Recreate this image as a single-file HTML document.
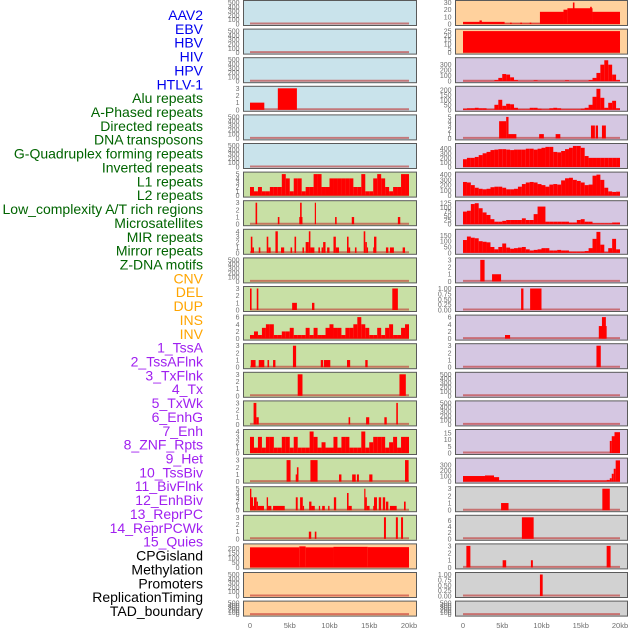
<!DOCTYPE html>
<html><head><meta charset="utf-8"><style>
html,body{margin:0;padding:0;background:#fff;}
svg{display:block;font-family:"Liberation Sans",sans-serif;}
</style></head><body>
<svg id="chart" width="630" height="630" viewBox="0 0 630 630" xmlns="http://www.w3.org/2000/svg">
<g id="labels"></g>
<g id="panels"></g>
<g id="xaxes"></g>
</svg>
<script>
const NS="http://www.w3.org/2000/svg";
// ---- track labels ----
const trackLabels=["AAV2","EBV","HBV","HIV","HPV","HTLV-1","Alu repeats","A-Phased repeats","Directed repeats","DNA transposons","G-Quadruplex forming repeats","Inverted repeats","L1 repeats","L2 repeats","Low_complexity A/T rich regions","Microsatellites","MIR repeats","Mirror repeats","Z-DNA motifs","CNV","DEL","DUP","INS","INV","1_TssA","2_TssAFlnk","3_TxFlnk","4_Tx","5_TxWk","6_EnhG","7_Enh","8_ZNF_Rpts","9_Het","10_TssBiv","11_BivFlnk","12_EnhBiv","13_ReprPC","14_ReprPCWk","15_Quies","CPGisland","Methylation","Promoters","ReplicationTiming","TAD_boundary"];
const labelGroupSizes=[6,13,5,15,5];
const labelGroupColors=["#0000ee","#006400","#ffa500","#a020f0","#000000"];
const xTickValues=[0,5,10,15,20];
const xTickLabels=["0","5kb","10kb","15kb","20kb"];
const emptyTicks=[0,100,200,300,400,500];

// ---- left column data (segments: [startKb,endKb,value]; bins: 0.5kb) ----
const l3Segs=[[0,1.8,1],[3.5,5.9,3]];
const l6Bins=[2,1,2,1,1,2,2,2,5,4,1,4,4,1,2,2,5,5,2,2,4,4,4,4,4,4,2,2,5,1,1,4,5,4,2,1,2,2,5,5];
const l7Segs=[[0.7,0.9,3],[3.5,3.7,1],[6.2,6.6,1],[6.3,6.5,3],[8.15,8.3,3],[10.7,10.9,1],[12.8,13.1,1],[18.6,18.9,1]];
const l8Segs=[[0.1,0.3,3],[0.3,0.5,1],[1.1,1.3,1],[2.1,2.3,3],[2.3,2.6,1],[3.2,3.5,4],[3.9,4.3,1],[5.1,5.3,1],[5.6,5.8,3],[6.6,6.8,1],[7.0,7.4,2],[7.4,7.6,4],[7.6,8.1,1],[8.6,8.8,1],[9.0,9.2,1],[9.2,9.5,2],[9.7,10.0,1],[10.5,10.8,3],[10.8,11.2,1],[12.2,12.4,3],[12.4,12.6,1],[13.2,13.4,1],[14.3,14.5,4],[14.5,14.7,2],[14.7,14.8,1],[15.5,15.6,1],[15.6,15.9,3],[17.1,17.4,1],[17.6,18.1,1],[19.2,19.5,1]];
const l10Segs=[[0,0.2,3],[0.85,1.05,3],[5.3,5.9,1],[7.8,8.1,1],[17.9,18.6,3]];
const l11Bins=[1,2,1,3,4,4,1,1,2,2,3,1,1,1,3,1,3,1,1,3,4,3,3,1,3,3,4,6,4,3,1,1,3,1,3,4,1,1,3,4];
const l12Segs=[[0.1,0.7,1],[1.1,1.8,1],[2.2,2.4,1],[2.9,3.2,1],[5.4,5.8,3],[8.9,9.2,1],[9.3,10.1,1],[12.2,12.6,1],[14.5,14.8,1]];
const l13Segs=[[6.0,6.6,3],[18.8,19.6,3]];
const l14Segs=[[0.45,0.8,3],[0.8,1.1,1],[12.4,12.6,1],[14.6,15.0,1],[16.9,17.2,1],[18.4,18.6,3]];
const l15Bins=[3,1,3,1,3,3,1,1,3,3,1,3,1,1,1,4,3,1,2,1,1,3,1,3,3,1,1,1,4,1,2,3,3,3,1,2,3,1,3,3];
const l16Segs=[[4.6,5.1,3],[5.75,6.0,1],[5.9,6.1,2],[7.6,8.5,3],[11.2,11.5,1],[12.85,13.3,1],[13.45,13.7,1],[15.0,15.4,1],[19.5,19.95,3]];
const l17Segs=[[0,0.17,5],[0.08,0.38,3],[0.38,0.59,1],[0.5,0.84,3],[0.84,1.0,2],[1.0,1.76,1],[2.1,2.27,3],[2.27,2.69,1],[2.9,4.37,1],[5.76,6.0,3],[6.3,6.64,3],[6.64,6.8,1],[7.44,7.73,2],[7.73,8.15,1],[8.66,8.82,1],[9.08,9.41,1],[9.83,10.0,1],[10.55,10.84,3],[12.2,12.4,4],[12.4,12.8,1],[14.37,14.5,5],[14.5,14.7,3],[14.7,15.04,1],[15.5,15.7,1],[15.6,15.97,3],[16.2,16.5,3],[16.7,17.0,3],[17.1,17.4,2],[17.6,18.45,1],[19.37,19.58,2]];
const l18Segs=[[7.4,7.7,1],[8.15,8.35,1],[16.85,17.1,3],[18.35,18.6,3],[19.0,19.25,3]];
const l19Segs=[[0,6.2,210],[6.2,7.0,220],[7.0,10.5,210],[10.5,14.8,215],[14.8,20,212]];

// ---- right column data ----
const r0Segs=[[0,5.3,3],[2.1,2.4,5],[5.3,9.8,0.5],[6.0,6.2,2],[7.3,7.5,2],[8.5,8.7,2],[9.8,12.8,17],[12.8,13.3,20],[13.3,16.5,22],[14.0,14.2,30],[16.2,16.4,24],[16.5,20,17]];
const r1Segs=[[0,20,25]];
const r2Bins=[5,5,5,5,5,5,5,5,20,60,130,120,70,20,5,5,5,5,15,5,5,5,5,5,5,5,15,5,5,5,5,5,20,60,150,300,380,300,120,20];
const r3Bins=[10,15,15,20,15,15,5,5,50,100,40,60,55,20,5,5,5,20,20,10,5,5,15,20,15,5,5,5,5,5,10,20,50,130,210,120,20,70,90,15];
const r4Segs=[[4.6,5.5,4],[5.5,5.8,5],[5.8,6.8,1],[9.7,10.3,1],[11.8,12.4,1],[16.3,16.8,3],[16.9,17.2,3],[17.7,18.2,3]];
const r5Bins=[170,200,200,220,260,300,330,370,380,390,390,380,370,380,380,380,400,400,380,400,420,440,440,330,320,350,390,420,460,460,420,240,200,200,200,200,200,200,200,200];
const r6Bins=[260,250,200,150,130,120,130,160,170,170,150,120,120,130,170,220,250,260,250,220,200,170,210,220,210,290,330,340,300,280,250,200,210,380,400,300,150,80,70,75];
const r7Bins=[75,80,120,125,95,70,55,30,15,15,20,25,25,25,25,35,25,25,60,105,105,15,15,15,15,15,15,10,10,25,30,15,15,5,5,5,5,5,10,10];
const r8Bins=[110,140,130,125,100,95,90,50,30,50,80,45,35,40,45,50,30,20,25,30,40,40,20,20,25,20,20,10,10,10,10,15,40,120,180,70,5,40,120,30];
const r9Segs=[[2.2,2.75,3],[3.7,4.85,1]];
const r10Segs=[[7.4,7.7,1],[8.55,10.0,1]];
const r11Segs=[[5.35,6.0,1],[17.3,18.3,3.5],[17.7,18.2,6]];
const r12Segs=[[17.0,17.55,3]];
const r15Segs=[[18.7,18.95,9],[18.95,19.3,12.5],[19.3,20,15.5]];
const r16Segs=[[0,2.8,100],[2.8,3.95,110],[3.95,4.6,80],[4.6,12.3,25],[12.3,18.3,20],[18.3,18.7,30],[18.7,18.95,60],[18.95,19.2,140],[19.2,19.45,230],[19.45,20,380]];
const r17Segs=[[4.85,5.8,1],[17.75,18.7,3]];
const r18Segs=[[7.5,9.0,7]];
const r19Segs=[[0.43,0.94,3],[5.05,5.5,1],[8.65,8.9,1],[18.3,18.8,3]];
const r20Segs=[[9.8,10.15,1]];

const C={blue:"#c9e3eb",green:"#c8e0a5",purple:"#d5c7e2",orange:"#ffd19d",grey:"#d2d2d2"};
const T3=[0,1,2,3],T4=[0,1,2,3,4],T5=[0,1,2,3,4,5],T6=[0,2,4,6],T1=[0,0.25,0.5,0.75,1];
const panels=[
 // left column
 {c:0,r:0,bg:C.blue,max:500,ticks:emptyTicks},
 {c:0,r:1,bg:C.blue,max:500,ticks:emptyTicks},
 {c:0,r:2,bg:C.blue,max:500,ticks:emptyTicks},
 {c:0,r:3,bg:C.blue,max:3,ticks:T3,segs:l3Segs},
 {c:0,r:4,bg:C.blue,max:500,ticks:emptyTicks},
 {c:0,r:5,bg:C.blue,max:500,ticks:emptyTicks},
 {c:0,r:6,bg:C.green,max:5,ticks:T5,bins:l6Bins},
 {c:0,r:7,bg:C.green,max:3,ticks:T3,segs:l7Segs},
 {c:0,r:8,bg:C.green,max:4,ticks:T4,segs:l8Segs},
 {c:0,r:9,bg:C.green,max:500,ticks:emptyTicks},
 {c:0,r:10,bg:C.green,max:3,ticks:T3,segs:l10Segs},
 {c:0,r:11,bg:C.green,max:6,ticks:T6,bins:l11Bins},
 {c:0,r:12,bg:C.green,max:3,ticks:T3,segs:l12Segs},
 {c:0,r:13,bg:C.green,max:3,ticks:T3,segs:l13Segs},
 {c:0,r:14,bg:C.green,max:3,ticks:T3,segs:l14Segs},
 {c:0,r:15,bg:C.green,max:4,ticks:T4,bins:l15Bins},
 {c:0,r:16,bg:C.green,max:3,ticks:T3,segs:l16Segs},
 {c:0,r:17,bg:C.green,max:5,ticks:T5,segs:l17Segs},
 {c:0,r:18,bg:C.green,max:3,ticks:T3,segs:l18Segs},
 {c:0,r:19,bg:C.orange,max:225,ticks:[0,50,100,150,200],segs:l19Segs},
 {c:0,r:20,bg:C.orange,max:500,ticks:emptyTicks},
 {c:0,r:21,bg:C.orange,max:500,ticks:emptyTicks},
 // right column
 {c:1,r:0,bg:C.orange,max:30,ticks:[0,10,20,30],segs:r0Segs},
 {c:1,r:1,bg:C.orange,max:25,ticks:[0,5,10,15,20,25],segs:r1Segs},
 {c:1,r:2,bg:C.purple,max:390,ticks:[0,100,200,300],bins:r2Bins},
 {c:1,r:3,bg:C.purple,max:215,ticks:[0,50,100,150,200],bins:r3Bins},
 {c:1,r:4,bg:C.purple,max:5,ticks:T5,segs:r4Segs},
 {c:1,r:5,bg:C.purple,max:470,ticks:[0,100,200,300,400],bins:r5Bins},
 {c:1,r:6,bg:C.purple,max:410,ticks:[0,100,200,300,400],bins:r6Bins},
 {c:1,r:7,bg:C.purple,max:128,ticks:[0,25,50,75,100,125],bins:r7Bins},
 {c:1,r:8,bg:C.purple,max:185,ticks:[0,50,100,150],bins:r8Bins},
 {c:1,r:9,bg:C.purple,max:3,ticks:T3,segs:r9Segs},
 {c:1,r:10,bg:C.purple,max:1,ticks:T1,segs:r10Segs,fmt:2},
 {c:1,r:11,bg:C.purple,max:6,ticks:T6,segs:r11Segs},
 {c:1,r:12,bg:C.purple,max:3,ticks:T3,segs:r12Segs},
 {c:1,r:13,bg:C.purple,max:500,ticks:emptyTicks},
 {c:1,r:14,bg:C.purple,max:500,ticks:emptyTicks},
 {c:1,r:15,bg:C.purple,max:16,ticks:[0,5,10,15],segs:r15Segs},
 {c:1,r:16,bg:C.purple,max:385,ticks:[0,100,200,300],segs:r16Segs},
 {c:1,r:17,bg:C.grey,max:3,ticks:T3,segs:r17Segs},
 {c:1,r:18,bg:C.grey,max:7,ticks:T6,segs:r18Segs},
 {c:1,r:19,bg:C.grey,max:3,ticks:T3,segs:r19Segs},
 {c:1,r:20,bg:C.grey,max:1,ticks:T1,segs:r20Segs,fmt:2},
 {c:1,r:21,bg:C.grey,max:500,ticks:emptyTicks}
];
const COL=[{x0:243.5,x1:416.5,k0:250,k20:409},{x0:455.5,x1:627.5,k0:463,k20:620}];
function xScale(c,kb){const g=COL[c];return g.k0+kb*(g.k20-g.k0)/20;}
function rowTop(r){return 0.5+r*28.6;}
function rowH(r){return r===21?15:25;}
function yScale(p,v){const t=rowTop(p.r),h=rowH(p.r);const base=t+h-1.5;const span=h-3.5;return base-Math.min(v,p.max)/p.max*span;}

// labels
const lg=document.getElementById('labels');
let gi=0,gc=0;
trackLabels.forEach((lab,i)=>{
  if(gc>=labelGroupSizes[gi]){gi++;gc=0;}
  gc++;
  const t=document.createElementNS(NS,'text');
  
  
  t.setAttribute('x',203);t.setAttribute('y',15+i*13.86+5);
  t.setAttribute('text-anchor','end');t.setAttribute('font-size','14');
  t.setAttribute('fill',labelGroupColors[gi]);
  t.textContent=lab;lg.appendChild(t);
});

// panels
const pg=document.getElementById('panels');
panels.forEach(p=>{
  const g=document.createElementNS(NS,'g');
  
  
  const col=COL[p.c],t=rowTop(p.r),h=rowH(p.r);
  const bg=document.createElementNS(NS,'rect');
  
  
  bg.setAttribute('x',col.x0);bg.setAttribute('y',t);bg.setAttribute('width',col.x1-col.x0);bg.setAttribute('height',h);
  bg.setAttribute('fill',p.bg);g.appendChild(bg);
  // baseline
  const bl=document.createElementNS(NS,'line');
  
  
  bl.setAttribute('x1',xScale(p.c,0));bl.setAttribute('x2',xScale(p.c,20));
  bl.setAttribute('y1',yScale(p,0)-0.5);bl.setAttribute('y2',yScale(p,0)-0.5);
  bl.setAttribute('stroke','#c0302f');bl.setAttribute('stroke-opacity','0.6');bl.setAttribute('stroke-width','2');
  g.appendChild(bl);
  const segs=[];
  if(p.segs)p.segs.forEach(s=>segs.push(s));
  if(p.bins)p.bins.forEach((v,i)=>segs.push([i*0.5,i*0.5+0.5,v]));
  segs.forEach(s=>{
    const r=document.createElementNS(NS,'rect');
    
    
    const xa=xScale(p.c,s[0]),xb=xScale(p.c,s[1]);
    const ya=yScale(p,s[2]),yb=yScale(p,0);
    r.setAttribute('x',xa);r.setAttribute('width',Math.max(1.2,xb-xa));
    r.setAttribute('y',ya);r.setAttribute('height',Math.max(0,yb-ya));
    r.setAttribute('fill','#ff0000');g.appendChild(r);
  });
  const fr=document.createElementNS(NS,'rect');
  
  
  fr.setAttribute('x',col.x0);fr.setAttribute('y',t);fr.setAttribute('width',col.x1-col.x0);fr.setAttribute('height',h);
  fr.setAttribute('fill','none');fr.setAttribute('stroke','#5a5a5a');fr.setAttribute('stroke-width','1');g.appendChild(fr);
  p.ticks.forEach(v=>{
    const tt=document.createElementNS(NS,'text');
    
    
    tt.setAttribute('x',col.x0-4);tt.setAttribute('y',yScale(p,v)+2.5);
    tt.setAttribute('text-anchor','end');tt.setAttribute('font-size','7');tt.setAttribute('fill','#6e6e6e');
    tt.textContent=p.fmt?v.toFixed(p.fmt):String(v);g.appendChild(tt);
  });
  pg.appendChild(g);
});

// x axes
const xg=document.getElementById('xaxes');
[0,1].forEach(c=>{
  xTickValues.forEach((v,i)=>{
    const t=document.createElementNS(NS,'text');
    
    
    t.setAttribute('x',xScale(c,v));t.setAttribute('y',628);
    t.setAttribute('text-anchor','middle');t.setAttribute('font-size','7.5');t.setAttribute('fill','#6e6e6e');
    t.textContent=xTickLabels[i];xg.appendChild(t);
  });
});
</script>
</body></html>
